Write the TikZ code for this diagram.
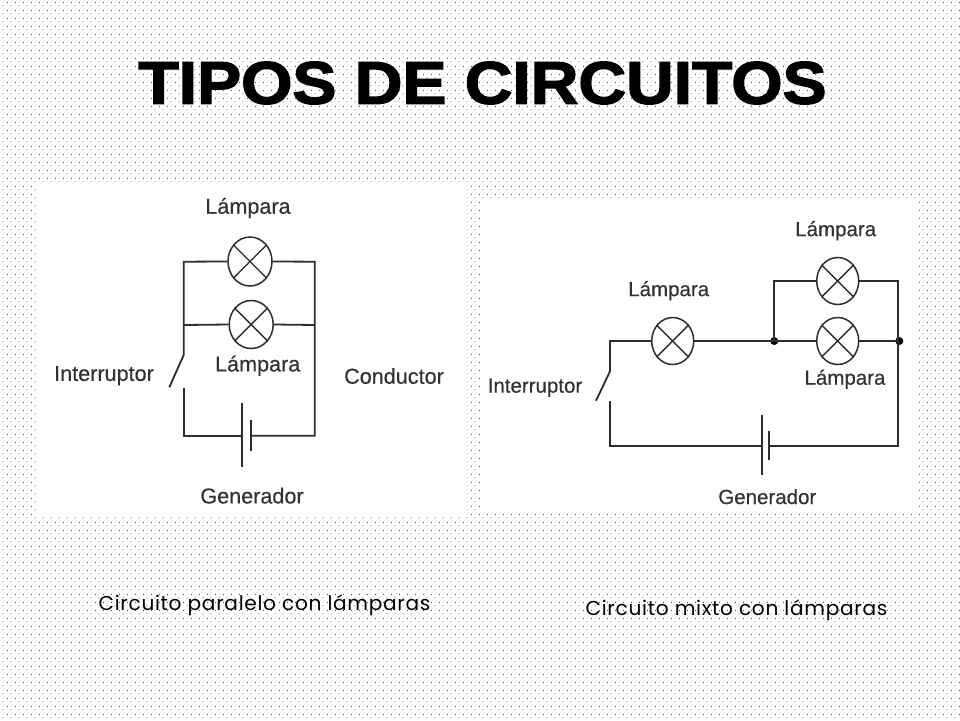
\documentclass[tikz,border=0pt]{standalone}
\usepackage{fontspec}
\usetikzlibrary{shapes.geometric,patterns}
\setmainfont{Liberation Sans}
\newfontfamily\titlefont[FakeBold=2.2]{Liberation Sans Bold}
\newfontfamily\capfont[LetterSpace=3.5]{Poppins}
\newfontfamily\labfont[FakeBold=0.35]{Liberation Sans}
\definecolor{dotcol}{RGB}{200,20,70}
\definecolor{wire}{RGB}{45,45,45}
\definecolor{lbl}{RGB}{50,50,50}
\pgfdeclarepatterninherentlycolored{dotbg}{\pgfpointorigin}{\pgfqpoint{8pt}{8pt}}{\pgfqpoint{8pt}{8pt}}{%
  \pgfsetfillcolor{dotcol}%
  \pgfpathrectangle{\pgfqpoint{0pt}{7pt}}{\pgfqpoint{1pt}{1pt}}%
  \pgfpathrectangle{\pgfqpoint{4pt}{3pt}}{\pgfqpoint{1pt}{1pt}}%
  \pgfusepath{fill}}
\tikzset{
  panel/.style={fill=white,draw=none},
  wireline/.style={draw=wire,line width=1.8pt,line join=miter},
  lampsym/.style={ellipse,draw=wire,line width=1.5pt,fill=white,inner sep=0pt,minimum width=#1},
  lampsym/.default=44pt,
  labL/.style={text=lbl,inner sep=0pt,font=\labfont\fontsize{21.6pt}{24pt}\selectfont},
  labR/.style={text=lbl,inner sep=0pt,font=\labfont\fontsize{20.5pt}{24pt}\selectfont},
  captext/.style={text=black,inner sep=0pt,font=\capfont\fontsize{20.1pt}{22pt}\selectfont},
  junction/.style={circle,fill=black,inner sep=0pt,minimum size=8pt}
}
\newcommand{\lampcross}[1]{\draw[draw=wire,line width=1.4pt] (#1.135)--(#1.315) (#1.45)--(#1.225);}
\begin{document}
\begin{tikzpicture}[x=1pt,y=-1pt]
\useasboundingbox (0,0) rectangle (960,720);
\fill[white] (0,0) rectangle (960,720);
% dotted background
\fill[pattern=dotbg] (0,0) rectangle (960,720);
% panels
\fill[panel] (39,182) rectangle (467,515);
\fill[panel] (482,202) rectangle (919,514);
% title
\node[inner sep=0pt,text=black] (title) at (482.5,83) {\resizebox{688pt}{42pt}{\titlefont TIPOS DE CIRCUITOS}};
% ---- left circuit
\coordinate (lTL) at (183.7,261.7);
\coordinate (lTR) at (314.7,261.7);
\coordinate (lML) at (183.7,325);
\coordinate (lMR) at (314.7,325);
\coordinate (lSwA) at (183.7,355);
\coordinate (lSwB) at (169.3,387.3);
\coordinate (lSwC) at (183.7,388.3);
\coordinate (lBL) at (183.7,435.7);
\coordinate (lBR) at (314.7,435.7);
\coordinate (lP1) at (241.7,435.7);
\coordinate (lP1a) at (241.7,403);
\coordinate (lP1b) at (241.7,466.7);
\coordinate (lP2) at (251,435.7);
\coordinate (lP2a) at (251,420);
\coordinate (lP2b) at (251,450.7);
\node[lampsym=44pt,minimum height=49pt] (lL1) at (250,261.5) {};
\node[lampsym=44pt,minimum height=48pt] (lL2) at (251.2,324.5) {};
\lampcross{lL1}\lampcross{lL2}
\draw[wireline] (lSwA) -- (lTL) -- (lL1.west);
\draw[wireline] (lL1.east) -- (lTR) -- (lBR) -- (lP2);
\draw[wireline] (lML) -- (lL2.west);
\draw[wireline] (lL2.east) -- (lMR);
\draw[wireline] (lSwA) -- (lSwB);
\draw[wireline] (lSwC) -- (lBL) -- (lP1);
\draw[wireline] (lP1a) -- (lP1b);
\draw[wireline] (lP2a) -- (lP2b);
\node[labL] (lt1) at (248,208) {Lámpara};
\node[labL] (lt2) at (257.7,365.7) {Lámpara};
\node[labL] (lt3) at (104,375.7) {Interruptor};
\node[labL] (lt4) at (394,376) {Conductor};
\node[labL] (lt5) at (252,495.7) {Generador};
% ---- right circuit
\coordinate (rT) at (610.3,341);
\coordinate (rSwA) at (610.3,370.7);
\coordinate (rSwB) at (596,400.7);
\coordinate (rSwC) at (610.3,401);
\coordinate (rBL) at (610.3,445.7);
\coordinate (rBR) at (898.3,445.7);
\coordinate (rTL) at (774.3,281);
\coordinate (rTR) at (898.3,281);
\coordinate (rP1) at (762,445.7);
\coordinate (rP1a) at (762,415.3);
\coordinate (rP1b) at (762,475);
\coordinate (rP2) at (768.7,445.7);
\coordinate (rP2a) at (768.7,430.7);
\coordinate (rP2b) at (768.7,460);
\node[lampsym=42pt,minimum height=47pt] (rA) at (672.7,341) {};
\node[lampsym=42pt,minimum height=47pt] (rB) at (837.7,281) {};
\node[lampsym=42pt,minimum height=47pt] (rC) at (837.7,341) {};
\lampcross{rA}\lampcross{rB}\lampcross{rC}
\node[junction] (rJ1) at (774.3,341) {};
\node[junction] (rJ2) at (899.3,341) {};
\draw[wireline] (rSwA) -- (rT) -- (rA.west);
\draw[wireline] (rA.east) -- (rJ1.center);
\draw[wireline] (rJ1.center) -- (rC.west);
\draw[wireline] (rC.east) -- (rJ2.center);
\draw[wireline] (rJ1.center) -- (rTL) -- (rB.west);
\draw[wireline] (rB.east) -- (rTR) -- (rBR) -- (rP2);
\draw[wireline] (rSwA) -- (rSwB);
\draw[wireline] (rSwC) -- (rBL) -- (rP1);
\draw[wireline] (rP1a) -- (rP1b);
\draw[wireline] (rP2a) -- (rP2b);
\node[labR] (rt1) at (835.7,230.7) {Lámpara};
\node[labR] (rt2) at (668.7,290.7) {Lámpara};
\node[labR] (rt3) at (845,379.3) {Lámpara};
\node[labR] (rt4) at (535,387.7) {Interruptor};
\node[labR] (rt5) at (767.3,496.7) {Generador};
% captions
\node[captext] (c1) at (264.5,605.5) {Circuito paralelo con lámparas};
\node[captext] (c2) at (736.5,610.5) {Circuito mixto con lámparas};
\end{tikzpicture}
\end{document}
